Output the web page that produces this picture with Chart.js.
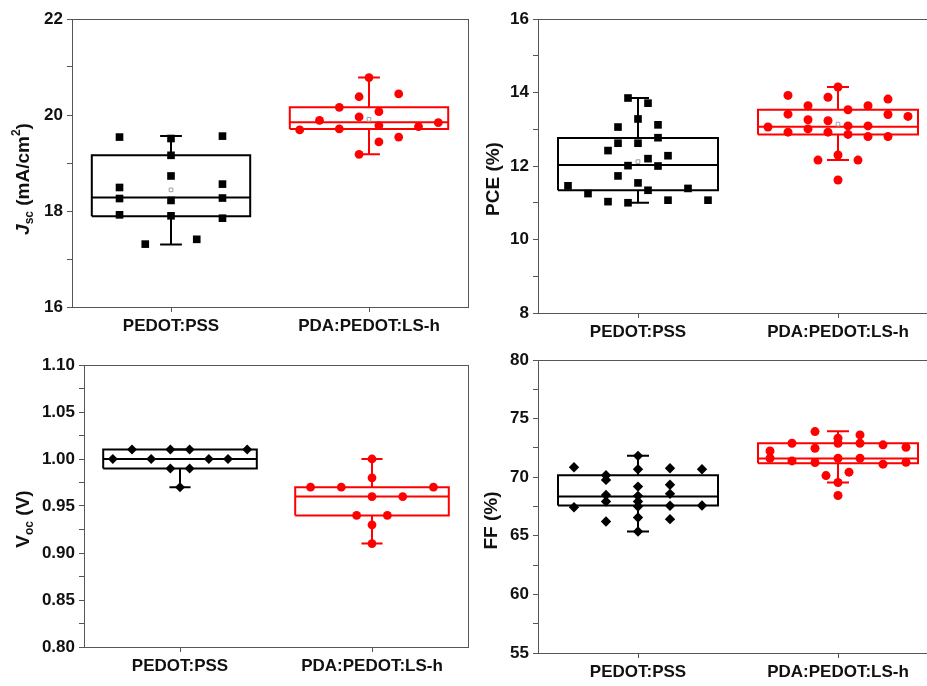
<!DOCTYPE html>
<html lang="en">
<head>
  <meta charset="UTF-8">
  <title>Device parameters box plots</title>
  <script src="https://cdn.jsdelivr.net/npm/chart.js"></script>
  <style>
    body {
      margin: 0;
      background: #fff;
      overflow: hidden;
    }
    #wrap {
      position: relative;
      width: 927px;
      height: 686px;
      overflow: hidden;
      background: #fff;
    }
    canvas {
      position: absolute;
    }
  </style>
</head>
<body>
  <div id="wrap">
    <canvas id="jsc" width="470" height="340" style="left:0;top:0"></canvas>
    <canvas id="pce" width="470" height="340" style="left:470px;top:0"></canvas>
    <canvas id="voc" width="470" height="346" style="left:0;top:340px"></canvas>
    <canvas id="ff" width="470" height="346" style="left:470px;top:340px"></canvas>
  </div>

  <script>
    const categories = ["PEDOT:PSS", "PDA:PEDOT:LS-h"];

    // Jsc (mA/cm2): x = jitter offset from the category centre
    const jscRefX = [-0.26, -0.26, -0.26, -0.26, -0.13, 0, 0, 0, 0, 0, 0.13, 0.26, 0.26, 0.26, 0.26];
    const jscRefY = [19.54, 18.49, 18.26, 17.92, 17.31, 19.51, 19.16, 18.73, 18.22, 17.90, 17.41, 19.56, 18.56, 18.27, 17.85];
    const jscPdaX = [-0.35, -0.25, -0.15, -0.15, -0.05, -0.05, -0.05, 0, 0.05, 0.05, 0.05, 0.15, 0.15, 0.25, 0.35];
    const jscPdaY = [19.69, 19.89, 20.16, 19.71, 20.38, 19.96, 19.18, 20.78, 20.07, 19.78, 19.44, 20.44, 19.54, 19.76, 19.84];
    // [min whisker, q1, median, q3, max whisker, mean]
    const jscRefBox = [17.30, 17.89, 18.28, 19.16, 19.56, 18.44];
    const jscPdaBox = [19.18, 19.71, 19.85, 20.16, 20.78, 19.91];

    // PCE (%)
    const pceRefX = [-0.35, -0.25, -0.15, -0.15, -0.1, -0.1, -0.1, -0.05, -0.05, -0.05, 0, 0, 0, 0.05, 0.05, 0.05, 0.1, 0.1, 0.1, 0.15, 0.15, 0.25, 0.35];
    const pceRefY = [11.46, 11.25, 12.42, 11.03, 13.06, 12.62, 11.73, 13.85, 12.01, 11.00, 13.28, 12.62, 11.54, 13.71, 12.20, 11.34, 13.12, 12.77, 12.00, 12.28, 11.07, 11.39, 11.07];
    const pcePdaX = [-0.35, -0.25, -0.25, -0.25, -0.15, -0.15, -0.15, -0.1, -0.05, -0.05, -0.05, 0, 0, 0, 0.05, 0.05, 0.05, 0.1, 0.15, 0.15, 0.15, 0.25, 0.25, 0.25, 0.35];
    const pcePdaY = [13.06, 13.92, 13.41, 12.92, 13.64, 13.26, 13.01, 12.16, 13.87, 13.23, 12.92, 14.15, 12.30, 11.62, 13.53, 13.09, 12.86, 12.16, 13.64, 13.09, 12.80, 13.82, 13.40, 12.80, 13.35];
    const pceRefBox = [11.00, 11.34, 12.03, 12.76, 13.85, 12.12];
    const pcePdaBox = [12.16, 12.86, 13.07, 13.53, 14.15, 13.14];

    // Voc (V)
    const vocRefX = [-0.35, -0.25, -0.15, -0.05, -0.05, 0, 0.05, 0.05, 0.15, 0.25, 0.35];
    const vocRefY = [1.00, 1.01, 1.00, 1.01, 0.99, 0.97, 1.01, 0.99, 1.00, 1.00, 1.01];
    const vocPdaX = [-0.32, -0.16, -0.08, 0, 0, 0, 0, 0, 0.08, 0.16, 0.32];
    const vocPdaY = [0.97, 0.97, 0.94, 1.00, 0.98, 0.96, 0.93, 0.91, 0.94, 0.96, 0.97];
    const vocRefBox = [0.97, 0.99, 1.00, 1.01, 1.01, null];
    const vocPdaBox = [0.91, 0.94, 0.96, 0.97, 1.00, null];

    // FF (%)
    const ffRefX = [-0.32, -0.32, -0.16, -0.16, -0.16, -0.16, -0.16, 0, 0, 0, 0, 0, 0, 0, 0, 0.16, 0.16, 0.16, 0.16, 0.16, 0.32, 0.32];
    const ffRefY = [70.85, 67.44, 70.17, 69.77, 68.49, 67.93, 66.22, 71.82, 70.68, 69.20, 68.41, 67.93, 67.50, 66.56, 65.37, 70.77, 69.35, 68.58, 67.56, 66.42, 70.68, 67.59];
    const ffPdaX = [-0.34, -0.34, -0.23, -0.23, -0.115, -0.115, -0.115, -0.06, 0, 0, 0, 0, 0, 0.055, 0.11, 0.11, 0.11, 0.225, 0.225, 0.34, 0.34];
    const ffPdaY = [72.24, 71.62, 72.90, 71.39, 73.89, 72.47, 71.25, 70.14, 73.32, 72.90, 71.62, 69.55, 68.44, 70.43, 73.61, 72.90, 71.62, 72.76, 71.11, 72.56, 71.28];
    const ffRefBox = [65.37, 67.59, 68.35, 70.17, 71.82, null];
    const ffPdaBox = [69.55, 71.19, 71.59, 72.90, 73.92, null];

    const BLACK = "#000000";
    const RED = "#ff0000";

    Chart.defaults.font.family = "Arial, 'Liberation Sans', sans-serif";
    Chart.defaults.font.size = 17;
    Chart.defaults.font.weight = "bold";
    Chart.defaults.color = "#111";

    // one box + whiskers + points for a category
    function groupSets(center, xs, ys, box, color, style, radius) {
      const [lo, q1, med, q3, hi, mean] = box;
      const hw = 0.4, cw = 0.055;
      const line = { showLine: true, pointRadius: 0, borderColor: color, borderWidth: 2, fill: false };
      const sets = [
        {
          data: xs.map((o, i) => ({ x: center + o, y: ys[i] })),
          pointStyle: style, pointRadius: radius, pointBorderWidth: 0,
          backgroundColor: color, borderColor: color
        }
      ];
      if (mean != null) {
        sets.push({
          data: [{ x: center, y: mean }],
          pointStyle: "rect", pointRadius: 2.6, pointBorderWidth: 1,
          backgroundColor: "#fff", borderColor: "#a0a0a0"
        });
      }
      sets.push(Object.assign({
        data: [
          { x: center, y: q3 }, { x: center, y: hi }, { x: center, y: null },
          { x: center - cw, y: hi }, { x: center + cw, y: hi }, { x: center, y: null },
          { x: center, y: q1 }, { x: center, y: lo }, { x: center, y: null },
          { x: center - cw, y: lo }, { x: center + cw, y: lo }
        ]
      }, line));
      sets.push(Object.assign({
        data: [{ x: center - hw, y: med }, { x: center + hw, y: med }]
      }, line));
      sets.push(Object.assign({
        data: [
          { x: center - hw, y: q1 }, { x: center + hw, y: q1 }, { x: center + hw, y: q3 },
          { x: center - hw, y: q3 }, { x: center - hw, y: q1 }
        ]
      }, line));
      return sets;
    }

    const framePlugin = {
      id: "frame",
      beforeDatasetsDraw(chart) {
        const a = chart.chartArea, ctx = chart.ctx;
        ctx.save();
        ctx.strokeStyle = "#555";
        ctx.lineWidth = 1;
        ctx.strokeRect(a.left + 0.5, a.top + 0.5, a.right - a.left, a.bottom - a.top);
        ctx.restore();
      }
    };

    // y title with italic letters, subscripts and superscripts
    const titlePlugin = {
      id: "richTitle",
      afterDraw(chart, args, opts) {
        if (!opts.parts) return;
        const a = chart.chartArea, ctx = chart.ctx;
        const fam = Chart.defaults.font.family;
        const fontOf = p => (p.italic ? "italic " : "") + "bold " + (p.sub || p.sup ? 12 : 19) + "px " + fam;
        ctx.save();
        ctx.translate(a.left - opts.dx, (a.top + a.bottom) / 2 + opts.dy);
        ctx.rotate(-Math.PI / 2);
        ctx.fillStyle = "#111";
        ctx.textBaseline = "middle";
        let total = 0;
        opts.parts.forEach(p => { ctx.font = fontOf(p); total += ctx.measureText(p.t).width; });
        let x = -total / 2;
        opts.parts.forEach(p => {
          ctx.font = fontOf(p);
          const y = p.sub ? 6 : (p.sup ? -7 : 0);
          ctx.fillText(p.t, x, y);
          x += ctx.measureText(p.t).width;
        });
        ctx.restore();
      }
    };

    function makeChart(id, sets, yMin, yMax, step, major, decimals, geo, title) {
      new Chart(document.getElementById(id), {
        type: "scatter",
        data: { datasets: sets },
        options: {
          responsive: false,
          animation: false,
          devicePixelRatio: 1,
          layout: { autoPadding: false, padding: { top: geo.top, right: geo.right, left: 0, bottom: 0 } },
          plugins: {
            legend: { display: false },
            tooltip: { enabled: false },
            richTitle: title
          },
          scales: {
            x: {
              type: "linear",
              min: 0.5,
              max: 2.5,
              afterFit: s => { s.height = geo.xh; },
              afterBuildTicks: s => { s.ticks = [{ value: 1 }, { value: 2 }]; },
              grid: { drawOnChartArea: false, tickLength: 5, color: "#555" },
              border: { color: "#555" },
              ticks: {
                padding: 4,
                color: "#111",
                maxRotation: 0,
                callback: v => categories[Math.round(v) - 1]
              }
            },
            y: {
              min: yMin,
              max: yMax,
              afterFit: s => { s.width = geo.yw; },
              grid: { drawOnChartArea: false, tickLength: 5, color: "#555" },
              border: { color: "#555" },
              ticks: {
                stepSize: step,
                padding: 4,
                color: "#111",
                callback: v => {
                  const r = v / major;
                  return Math.abs(r - Math.round(r)) < 1e-6 ? v.toFixed(decimals) : "";
                }
              }
            }
          }
        },
        plugins: [framePlugin, titlePlugin]
      });
    }

    makeChart("jsc",
      groupSets(1, jscRefX, jscRefY, jscRefBox, BLACK, "rect", 5.4)
        .concat(groupSets(2, jscPdaX, jscPdaY, jscPdaBox, RED, "circle", 4.4)),
      16, 22, 1, 2, 0,
      { top: 19, right: 2, yw: 72, xh: 33 },
      { dx: 48, dy: 16, parts: [{ t: "J", italic: true }, { t: "sc", sub: true }, { t: " (mA/cm" }, { t: "2", sup: true }, { t: ")" }] });

    makeChart("pce",
      groupSets(1, pceRefX, pceRefY, pceRefBox, BLACK, "rect", 5.4)
        .concat(groupSets(2, pcePdaX, pcePdaY, pcePdaBox, RED, "circle", 4.5)),
      8, 16, 1, 2, 0,
      { top: 19, right: 2, yw: 68, xh: 27 },
      { dx: 44, dy: 13, parts: [{ t: "PCE (%)" }] });

    makeChart("voc",
      groupSets(1, vocRefX, vocRefY, vocRefBox, BLACK, "rectRot", 5)
        .concat(groupSets(2, vocPdaX, vocPdaY, vocPdaBox, RED, "circle", 4.4)),
      0.80, 1.10, 0.025, 0.05, 2,
      { top: 25, right: 2, yw: 84, xh: 39 },
      { dx: 60, dy: 13, parts: [{ t: "V" }, { t: "oc", sub: true }, { t: " (V)" }] });

    makeChart("ff",
      groupSets(1, ffRefX, ffRefY, ffRefBox, BLACK, "rectRot", 5.2)
        .concat(groupSets(2, ffPdaX, ffPdaY, ffPdaBox, RED, "circle", 4.5)),
      55, 80, 2.5, 5, 0,
      { top: 20, right: 2, yw: 68, xh: 33 },
      { dx: 46, dy: 14, parts: [{ t: "FF (%)" }] });
  </script>
</body>
</html>
